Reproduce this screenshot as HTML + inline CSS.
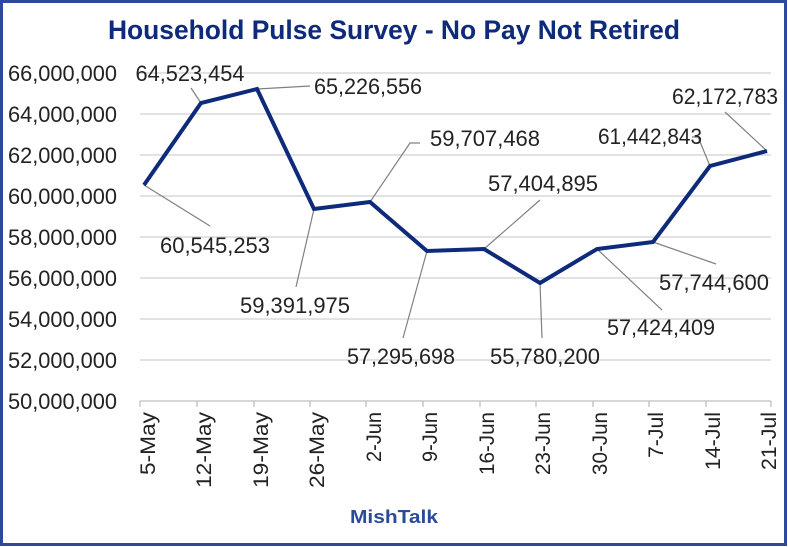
<!DOCTYPE html>
<html><head><meta charset="utf-8"><style>
html,body{margin:0;padding:0;background:#fff}
svg{display:block}
text{font-family:"Liberation Sans",sans-serif}
</style></head><body>
<svg width="788" height="547" viewBox="0 0 788 547" xmlns="http://www.w3.org/2000/svg">
<rect x="1.5" y="1.5" width="784" height="543" fill="#fff" stroke="#2c4a9a" stroke-width="3"/>
<text x="394" y="39" text-anchor="middle" font-size="27" font-weight="bold" fill="#0e2a7a" textLength="572" lengthAdjust="spacingAndGlyphs">Household Pulse Survey - No Pay Not Retired</text>
<g stroke="#d0d0d0" stroke-width="1.3">
<line x1="140" y1="73" x2="771" y2="73"/><line x1="140" y1="114" x2="771" y2="114"/>
<line x1="140" y1="155" x2="771" y2="155"/><line x1="140" y1="196" x2="771" y2="196"/>
<line x1="140" y1="237" x2="771" y2="237"/><line x1="140" y1="278" x2="771" y2="278"/>
<line x1="140" y1="319" x2="771" y2="319"/><line x1="140" y1="360" x2="771" y2="360"/>
</g>
<g stroke="#bfbfbf" stroke-width="1.3">
<line x1="140" y1="401" x2="771" y2="401"/>
<line x1="140" y1="401" x2="140" y2="407"/><line x1="197" y1="401" x2="197" y2="407"/><line x1="254" y1="401" x2="254" y2="407"/><line x1="310" y1="401" x2="310" y2="407"/><line x1="366" y1="401" x2="366" y2="407"/><line x1="423" y1="401" x2="423" y2="407"/><line x1="480" y1="401" x2="480" y2="407"/><line x1="536" y1="401" x2="536" y2="407"/><line x1="593" y1="401" x2="593" y2="407"/><line x1="649" y1="401" x2="649" y2="407"/><line x1="706" y1="401" x2="706" y2="407"/><line x1="771" y1="401" x2="771" y2="407"/>
</g>
<g font-size="22" fill="#222" text-anchor="end">
<text x="117" y="81" textLength="109" lengthAdjust="spacingAndGlyphs">66,000,000</text>
<text x="117" y="122" textLength="109" lengthAdjust="spacingAndGlyphs">64,000,000</text>
<text x="117" y="163" textLength="109" lengthAdjust="spacingAndGlyphs">62,000,000</text>
<text x="117" y="204" textLength="109" lengthAdjust="spacingAndGlyphs">60,000,000</text>
<text x="117" y="245" textLength="109" lengthAdjust="spacingAndGlyphs">58,000,000</text>
<text x="117" y="286" textLength="109" lengthAdjust="spacingAndGlyphs">56,000,000</text>
<text x="117" y="327" textLength="109" lengthAdjust="spacingAndGlyphs">54,000,000</text>
<text x="117" y="368" textLength="109" lengthAdjust="spacingAndGlyphs">52,000,000</text>
<text x="117" y="409" textLength="109" lengthAdjust="spacingAndGlyphs">50,000,000</text>
</g>
<g font-size="21" fill="#222" text-anchor="end">
<text transform="translate(155,412) rotate(-90)" textLength="63" lengthAdjust="spacingAndGlyphs">5-May</text>
<text transform="translate(211,412) rotate(-90)" textLength="76" lengthAdjust="spacingAndGlyphs">12-May</text>
<text transform="translate(268,412) rotate(-90)" textLength="76" lengthAdjust="spacingAndGlyphs">19-May</text>
<text transform="translate(324,412) rotate(-90)" textLength="76" lengthAdjust="spacingAndGlyphs">26-May</text>
<text transform="translate(381,412) rotate(-90)" textLength="50" lengthAdjust="spacingAndGlyphs">2-Jun</text>
<text transform="translate(437,412) rotate(-90)" textLength="50" lengthAdjust="spacingAndGlyphs">9-Jun</text>
<text transform="translate(494,412) rotate(-90)" textLength="63" lengthAdjust="spacingAndGlyphs">16-Jun</text>
<text transform="translate(550,412) rotate(-90)" textLength="63" lengthAdjust="spacingAndGlyphs">23-Jun</text>
<text transform="translate(607,412) rotate(-90)" textLength="63" lengthAdjust="spacingAndGlyphs">30-Jun</text>
<text transform="translate(663,412) rotate(-90)" textLength="46" lengthAdjust="spacingAndGlyphs">7-Jul</text>
<text transform="translate(720,412) rotate(-90)" textLength="58" lengthAdjust="spacingAndGlyphs">14-Jul</text>
<text transform="translate(776,412) rotate(-90)" textLength="58" lengthAdjust="spacingAndGlyphs">21-Jul</text>
</g>
<text x="394" y="523" text-anchor="middle" font-size="18" font-weight="bold" fill="#2c4a9a" textLength="88" lengthAdjust="spacingAndGlyphs">MishTalk</text>
<g stroke="#808080" stroke-width="1.2" fill="none">
<polyline points="144,185 210,226"/>
<polyline points="201,103 191,88"/>
<polyline points="257,89 310,86"/>
<polyline points="314,209 296,287"/>
<polyline points="370,202 410,143 420,143"/>
<polyline points="484,249 540,200"/>
<polyline points="427,251 403,338"/>
<polyline points="540,283 542,338"/>
<polyline points="597,249 662,310"/>
<polyline points="653,242 716,264"/>
<polyline points="710,166 698,137 692,137"/>
<polyline points="767,151 725,112"/>
</g>
<polyline fill="none" stroke="#0e2a7a" stroke-width="4" stroke-linejoin="miter" points="144,185 201,103 257,89 314,209 370,202 427,251 484,249 540,283 597,249 653,242 710,166 767,151"/>
<g font-size="22" fill="#222" text-anchor="middle">
<text x="190" y="81" textLength="109" lengthAdjust="spacingAndGlyphs">64,523,454</text>
<text x="368" y="94" textLength="108" lengthAdjust="spacingAndGlyphs">65,226,556</text>
<text x="215" y="253" textLength="110" lengthAdjust="spacingAndGlyphs">60,545,253</text>
<text x="295" y="313" textLength="110" lengthAdjust="spacingAndGlyphs">59,391,975</text>
<text x="485" y="146" textLength="110" lengthAdjust="spacingAndGlyphs">59,707,468</text>
<text x="543" y="191" textLength="110" lengthAdjust="spacingAndGlyphs">57,404,895</text>
<text x="401" y="364" textLength="108" lengthAdjust="spacingAndGlyphs">57,295,698</text>
<text x="545" y="364" textLength="110" lengthAdjust="spacingAndGlyphs">55,780,200</text>
<text x="661" y="335" textLength="108" lengthAdjust="spacingAndGlyphs">57,424,409</text>
<text x="714" y="290" textLength="110" lengthAdjust="spacingAndGlyphs">57,744,600</text>
<text x="650" y="144" textLength="104" lengthAdjust="spacingAndGlyphs">61,442,843</text>
<text x="725" y="104" textLength="106" lengthAdjust="spacingAndGlyphs">62,172,783</text>
</g>
</svg>
</body></html>
